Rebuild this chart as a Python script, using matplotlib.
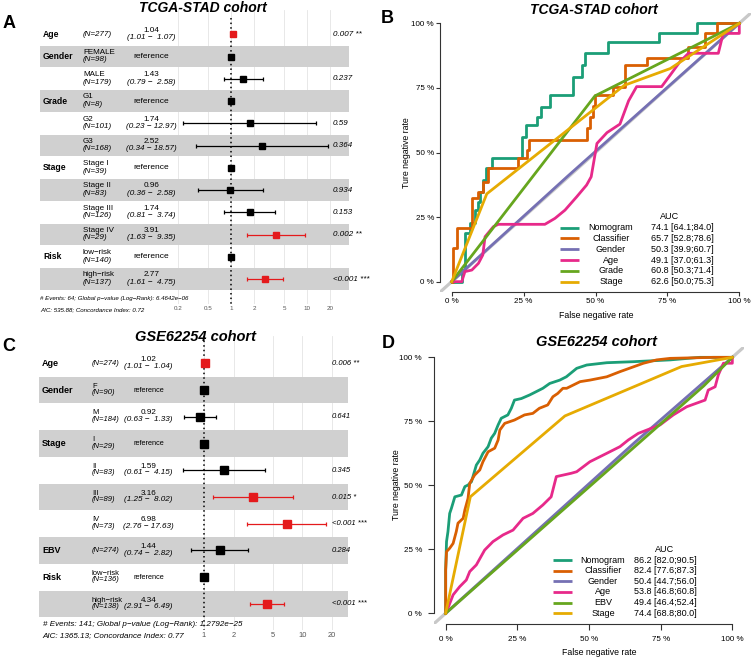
#!/usr/bin/env python3
# Forest plots (Cox models) and ROC curves for the TCGA-STAD and GSE62254 cohorts.

import numpy as np
import matplotlib
matplotlib.use('Agg')
import matplotlib.pyplot as plt
import matplotlib.transforms as mtransforms
from matplotlib.ticker import NullLocator

plt.rcParams['font.family'] = ['Liberation Sans', 'DejaVu Sans']

nan = np.nan

# ---- A: TCGA-STAD forest ----
a_group = ['Age', 'Gender', '', 'Grade', '', '', 'Stage', '', '', '', 'Risk', '']
a_level = ['', 'FEMALE', 'MALE', 'G1', 'G2', 'G3', 'Stage I', 'Stage II', 'Stage III',
           'Stage IV', 'low−risk', 'high−risk']
a_n = [277, 98, 179, 8, 101, 168, 39, 83, 126, 29, 140, 137]
a_hr = [1.04, 1, 1.43, 1, 1.74, 2.52, 1, 0.96, 1.74, 3.91, 1, 2.77]
a_lo = [1.01, nan, 0.79, nan, 0.23, 0.34, nan, 0.36, 0.81, 1.63, nan, 1.61]
a_hi = [1.07, nan, 2.58, nan, 12.97, 18.57, nan, 2.58, 3.74, 9.35, nan, 4.75]
a_p = ['0.007 **', '', '0.237', '', '0.59', '0.364', '', '0.934', '0.153', '0.002 **',
       '', '<0.001 ***']
a_ticks = [0.2, 0.5, 1, 2, 5, 10, 20]
a_foot = ['# Events: 64; Global p−value (Log−Rank): 6.4642e−06',
          'AIC: 535.88; Concordance Index: 0.72']

# ---- C: GSE62254 forest ----
c_group = ['Age', 'Gender', '', 'Stage', '', '', '', 'EBV', 'Risk', '']
c_level = ['', 'F', 'M', 'I', 'II', 'III', 'IV', '', 'low−risk', 'high−risk']
c_n = [274, 90, 184, 29, 83, 89, 73, 274, 136, 138]
c_hr = [1.02, 1, 0.92, 1, 1.59, 3.16, 6.98, 1.44, 1, 4.34]
c_lo = [1.01, nan, 0.63, nan, 0.61, 1.25, 2.76, 0.74, nan, 2.91]
c_hi = [1.04, nan, 1.33, nan, 4.15, 8.02, 17.63, 2.82, nan, 6.49]
c_p = ['0.006 **', '', '0.641', '', '0.345', '0.015 *', '<0.001 ***', '0.284', '',
       '<0.001 ***']
c_ticks = [1, 2, 5, 10, 20]
c_foot = ['# Events: 141; Global p−value (Log−Rank): 1.2792e−25',
          'AIC: 1365.13; Concordance Index: 0.77']

# ---- B: TCGA-STAD ROC (percent) ----
b_names = ['Nomogram', 'Classifier', 'Gender', 'Age', 'Grade', 'Stage']
b_auc = ['74.1 [64.1;84.0]', '65.7 [52.8;78.6]', '50.3 [39.9;60.7]',
         '49.1 [37.0;61.3]', '60.8 [50.3;71.4]', '62.6 [50.0;75.3]']
b_nomo_x = [0, 3.5, 4.6, 6.4, 8.1, 9.3, 10, 11, 11.8, 13.9, 24.3, 25.7, 29.5, 31, 34.2,
            42.3, 45.2, 46.3, 54.5, 72.2, 85.2, 100]
b_nomo_y = [0, 4.5, 18.7, 22.6, 27.7, 31, 34.8, 39.4, 43.9, 47.8, 56, 60.6, 63.9, 67.7,
            72.3, 79.4, 83.9, 88.4, 92.9, 96.1, 100, 100]
b_clas_x = [0, 0.6, 1.7, 7, 9.3, 11, 12.7, 23.2, 26.3, 27, 47, 48, 49, 49.8, 56.2, 60.3,
            67.8, 82.3, 88, 92.4, 100]
b_clas_y = [0, 12.9, 20.7, 32.3, 34.8, 38.5, 43.9, 47.8, 51, 54.8, 59.4, 63.9, 68, 72.3,
            75.5, 83.9, 86.5, 91, 96.1, 100, 100]
b_gend_x = [0, 40.5, 100]
b_gend_y = [0, 41, 100]
b_age_x = [0, 3.5, 4.6, 7, 9.3, 10.8, 11.6, 14.5, 16.2, 32.4, 35.9, 39.4, 43.5, 46.9,
           48.5, 50.5, 54, 58.5, 61.5, 64.3, 73, 76, 79.4, 82.3, 92.7, 94.4, 98, 100, 100]
b_age_y = [0, 0, 3.9, 4.5, 7.1, 10.3, 17.4, 21.3, 22.2, 22.2, 24.5, 27.7, 32.9, 37.4,
           40.6, 53.5, 57.7, 61, 70, 75.5, 75.5, 80, 85.2, 88.4, 88.4, 96.1, 96.1, 96.1, 100]
b_grad_x = [0, 49.8, 100]
b_grad_y = [0, 71.9, 100]
b_stag_x = [0, 12.2, 60, 76, 100]
b_stag_y = [0, 34, 76, 82.5, 100]

# ---- D: GSE62254 ROC (percent) ----
d_names = ['Nomogram', 'Classifier', 'Gender', 'Age', 'EBV', 'Stage']
d_auc = ['86.2 [82.0;90.5]', '82.4 [77.6;87.3]', '50.4 [44.7;56.0]',
         '53.8 [46.8;60.8]', '49.4 [46.4;52.4]', '74.4 [68.8;80.0]']
d_nomo_x = [0, 0, 0.3, 0.8, 1.4, 2.0, 3.2, 5.5, 6.7, 7.8, 9.0, 10.7, 11.9, 13.0, 14.8,
            15.9, 17.1, 18.3, 19.4, 21.7, 22.9, 24.0, 26.4, 29.3, 31.6, 33.9, 36.3, 39.8,
            42.1, 45.7, 49.2, 56.2, 65.5, 78.3, 88.7, 100]
d_nomo_y = [0, 16.9, 28, 31.9, 39, 41, 45.5, 46.2, 49.5, 50.1, 51.4, 57.9, 59.9, 62.5,
            65.1, 68.4, 70.3, 73.6, 76.2, 77.5, 80.1, 83.3, 83.9, 85.3, 86.6, 87.9, 89.8,
            91.1, 92.4, 95.7, 97, 97.9, 98.3, 99, 100, 100]
d_clas_x = [0, 0, 0.3, 1.4, 2.6, 3.7, 4.3, 6.1, 6.7, 7.8, 8.4, 10.1, 11.9, 13.0, 14.8,
            17.1, 18.3, 18.9, 20.6, 24.0, 27.5, 30.4, 32.7, 35.6, 37.4, 39.1, 40.9, 42.2,
            46.9, 50.3, 56.2, 60.8, 69, 73.6, 78.3, 93.4, 100]
d_clas_y = [0, 16.9, 24.1, 25.4, 27.3, 31.9, 35.2, 37.1, 40.4, 44.9, 50.8, 54, 56, 59.2,
            63.1, 64.5, 67.7, 71.6, 74.2, 75.5, 77.5, 78.1, 80.1, 81.4, 84.6, 85.9, 87.9,
            87.9, 90.5, 91.1, 92.4, 94.4, 97.7, 99, 99.6, 100, 100]
d_gend_x = [0, 66, 100]
d_gend_y = [0, 66.8, 100]
d_age_x = [0, 1, 2.6, 4.9, 7.2, 8.4, 10.7, 13.6, 16.5, 20, 23.5, 27, 30.4, 33.9, 36.8,
           38.6, 43.8, 45.7, 50.3, 56.2, 60.8, 63.7, 67.2, 74.8, 79.4, 84.1, 90.5, 91.6,
           94, 95.1, 96.9, 100, 100]
d_age_y = [0, 2.6, 7.2, 10.4, 13, 16.3, 18.9, 24.7, 28, 30.6, 32.5, 37.1, 39, 42.3, 45.5,
           53.4, 54.7, 55.3, 59.2, 62.5, 65.1, 67.7, 70.3, 73.6, 77.5, 80.7, 83.3, 87.2,
           88.5, 93.1, 97.7, 97.7, 100]
d_ebv_x = [0, 90, 100]
d_ebv_y = [0, 88.8, 100]
d_stag_x = [0, 8.6, 41.6, 82.3, 100]
d_stag_y = [0, 45.5, 77.1, 96.4, 100]

ROC_COLS = ['#1b9e77', '#d95f02', '#7570b3', '#e7298a', '#66a61e', '#e6ab02']
RED = '#e41a1c'

W, H = 753, 658
fig = plt.figure(figsize=(W / 100, H / 100), dpi=100)


def rect(x0, y0, x1, y1):
    # pixel box, origin top-left -> figure fraction
    return [x0 / W, 1 - y1 / H, (x1 - x0) / W, (y1 - y0) / H]


def label(x, y, s, **kw):
    kw.setdefault('ha', 'center')
    kw.setdefault('va', 'center')
    fig.text(x / W, 1 - y / H, s, **kw)


def forest(box, row0, rowh, xlim, ticks, cols, sz, groups, levels, ns, hr, lo, hi, pv, dot_top):
    x0, y0, x1, y1 = box
    ax = fig.add_axes(rect(*box))
    ax.set_xscale('log')
    ax.set_xlim(*xlim)
    ybot = (y1 - row0) / rowh
    ax.set_ylim(ybot, (y0 - row0) / rowh)
    for s in ax.spines.values():
        s.set_visible(False)
    ax.set_yticks([])
    ax.xaxis.set_minor_locator(NullLocator())
    ax.set_xticks(ticks)
    ax.set_xticklabels([f'{t:g}' for t in ticks])
    ax.tick_params(axis='x', length=0, pad=sz['pad'], labelsize=sz['tick'],
                   labelcolor='#555555')
    for t in ticks:
        ax.axvline(t, color='#e4e4e4', lw=0.6, zorder=0)
    for i in range(len(levels)):
        if i % 2 == 1:
            ax.axhspan(i - 0.49, i + 0.49, color='#d0d0d0', lw=0, zorder=1)
    ax.vlines(1, (dot_top - row0) / rowh, ybot, colors='black',
              linestyles=(0, (1, 2)), lw=1.1, zorder=3)

    tr = mtransforms.blended_transform_factory(ax.transAxes, ax.transData)
    up, dn = sz['up'] / rowh, sz['dn'] / rowh
    xv, xl, xe, xp = cols
    fs = sz['text']
    for i in range(len(levels)):
        if groups[i]:
            ax.text(xv, i, groups[i], weight='bold', fontsize=sz['var'], va='center',
                    transform=tr)
        nlab = f'(N={ns[i]})'
        if levels[i]:
            ax.text(xl, i - up, levels[i], fontsize=fs, va='center', transform=tr)
            ax.text(xl, i + dn, nlab, fontsize=fs, style='italic', va='center', transform=tr)
        else:
            ax.text(xl, i, nlab, fontsize=fs, style='italic', va='center', transform=tr)
        if np.isnan(lo[i]):
            ax.text(xe, i, 'reference', fontsize=sz['ref'], ha='center', va='center',
                    transform=tr)
            ax.plot(hr[i], i, 's', ms=sz['ms'], color='black', zorder=5)
        else:
            c = RED if '*' in pv[i] else 'black'
            ax.text(xe, i - up, f'{hr[i]:.2f}', fontsize=sz['est'], ha='center',
                    va='center', transform=tr)
            ax.text(xe, i + dn, f'({lo[i]:.2f} − {hi[i]:5.2f})', fontsize=sz['est'],
                    style='italic', ha='center', va='center', transform=tr)
            ax.errorbar(hr[i], i, xerr=[[hr[i] - lo[i]], [hi[i] - hr[i]]], fmt='none',
                        ecolor=c, elinewidth=0.9, capsize=1.6, capthick=0.9, zorder=4)
            ax.plot(hr[i], i, 's', ms=sz['ms'], color=c, zorder=5)
            ax.text(xp, i, pv[i], fontsize=sz['p'], style='italic', va='center',
                    transform=tr)
    return ax


def roc(box, curves, steps, names, aucs, tick_len, tick_pad, leg):
    ax = fig.add_axes(rect(*box))
    ax.set_xlim(-4, 104)
    ax.set_ylim(-4, 104)
    ax.plot([-4, 104], [-4, 104], color='#c8c8c8', lw=2.3, zorder=1)
    for k, (x, y) in enumerate(curves):
        ax.plot(x, y, color=ROC_COLS[k], lw=2,
                drawstyle='steps-post' if steps[k] else 'default', zorder=2 + k)
    ax.spines[['top', 'right']].set_visible(False)
    for side in ['left', 'bottom']:
        ax.spines[side].set_bounds(0, 100)
        ax.spines[side].set_linewidth(0.8)
        ax.spines[side].set_color('#333333')
    t = [0, 25, 50, 75, 100]
    ax.set_xticks(t)
    ax.set_yticks(t)
    ax.set_xticklabels([f'{v} %' for v in t])
    ax.set_yticklabels([f'{v} %' for v in t])
    ax.tick_params(length=tick_len, pad=tick_pad, width=0.8, color='#333333',
                   labelsize=5.8)
    lx0, lx1, nx, ax_auc, hx, hy, ry0, rdy = leg
    ax.text(hx, hy, 'AUC', fontsize=6.5, ha='center', va='center')
    for k in range(len(names)):
        yy = ry0 - rdy * k
        ax.plot([lx0, lx1], [yy, yy], color=ROC_COLS[k], lw=2, solid_capstyle='butt')
        ax.text(nx, yy, names[k], fontsize=6.5, ha='center', va='center')
        ax.text(ax_auc, yy, aucs[k], fontsize=6.5, ha='left', va='center')
    return ax


# A
forest((40, 10, 349, 304), 34.3, 22.25, (0.00304, 35.4), a_ticks,
       (0.0097, 0.139, 0.361, 0.948),
       dict(pad=1.5, tick=4.5, up=4.2, dn=3.4, text=5.8, var=6.2, ref=6.0, est=5.9,
            p=5.8, ms=4.9),
       a_group, a_level, a_n, a_hr, a_lo, a_hi, a_p, 18)
label(203.3, 7.5, 'TCGA-STAD cohort', fontsize=10, weight='bold', style='italic')
label(9, 23, 'A', fontsize=13, weight='bold')
label(40, 298.3, a_foot[0], fontsize=4.4, style='italic', ha='left')
label(40, 310, a_foot[1], fontsize=4.4, style='italic', ha='left')

# C
forest((39, 336, 348, 630), 363.3, 26.74, (0.021, 29.2), c_ticks,
       (0.0097, 0.1715, 0.355, 0.948),
       dict(pad=1.5, tick=5.4, up=3.9, dn=2.7, text=5.5, var=6.5, ref=5.3, est=5.9,
            p=5.5, ms=5.3),
       c_group, c_level, c_n, c_hr, c_lo, c_hi, c_p, 336)
label(195.8, 336.7, 'GSE62254 cohort', fontsize=10.5, weight='bold', style='italic')
label(8.3, 346.7, 'C', fontsize=13, weight='bold')
label(42.7, 624.3, c_foot[0], fontsize=5.8, style='italic', ha='left')
label(42.7, 636, c_foot[1], fontsize=5.8, style='italic', ha='left')

# B
roc((440.2, 13.0, 750.8, 292.0),
    [(b_nomo_x, b_nomo_y), (b_clas_x, b_clas_y), (b_gend_x, b_gend_y),
     (b_age_x, b_age_y), (b_grad_x, b_grad_y), (b_stag_x, b_stag_y)],
    [True, True, False, False, False, False], b_names, b_auc, 3.1, 1.4,
    (37.7, 44.3, 55.4, 69.2, 75.9, 25.2, 20.9, 4.18))
label(593.8, 10, 'TCGA-STAD cohort', fontsize=10, weight='bold', style='italic')
label(387.5, 18.3, 'B', fontsize=13, weight='bold')
label(595.8, 315, 'False negative rate', fontsize=6.3)
label(406.7, 152.5, 'Ture negative rate', fontsize=6.3, rotation=90)

# D
roc((434.2, 347.1, 743.8, 623.5),
    [(d_nomo_x, d_nomo_y), (d_clas_x, d_clas_y), (d_gend_x, d_gend_y),
     (d_age_x, d_age_y), (d_ebv_x, d_ebv_y), (d_stag_x, d_stag_y)],
    [False] * 6, d_names, d_auc, 4.3, 4.5,
    (37.3, 44.0, 54.9, 65.8, 76.5, 25.0, 20.8, 4.16))
label(596.7, 341.7, 'GSE62254 cohort', fontsize=10.5, weight='bold', style='italic')
label(388, 344, 'D', fontsize=13, weight='bold')
label(599.2, 652.3, 'False negative rate', fontsize=6.3)
label(396.7, 485, 'Ture negative rate', fontsize=6.3, rotation=90)

fig.savefig('out.png', dpi=100)
